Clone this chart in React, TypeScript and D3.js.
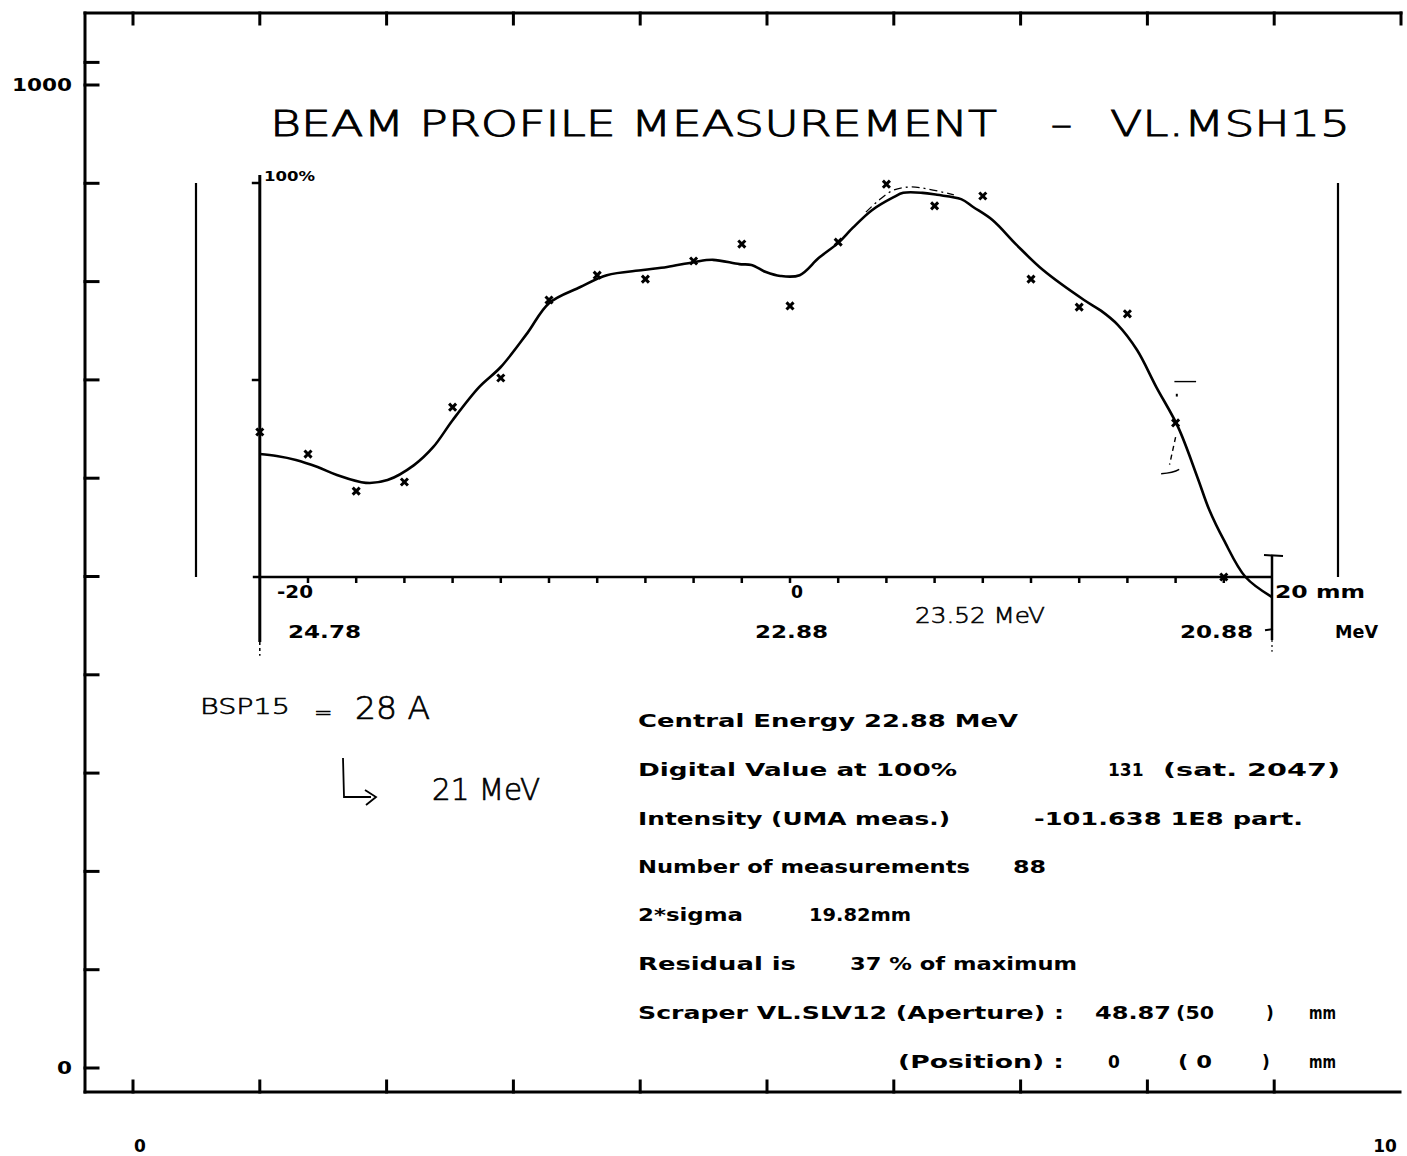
import React from "react";
import * as d3 from "d3";

// ---------- data ----------
// outer frame axes
const outerTopTicks = [0, 1, 2, 3, 4, 5, 6, 7, 8, 9, 10];
const outerBottomTicks = [0, 1, 2, 3, 4, 5, 6, 7, 8, 9];
const outerLeftTicks = [0, 100, 200, 300, 400, 500, 600, 700, 800, 900, 1000, 1023];
const outerLeftLabels = ["0", "1000"];
const outerLeftLabelValues = [0, 1000];
const outerBottomLabels = ["0", "10"];
const outerBottomLabelValues = [0, 10];

// inner profile axes (mm / %)
const posTicks = [-20, -18, -16, -14, -12, -10, -8, -6, -4, -2, 0, 2, 4, 6, 8, 10, 12, 14, 16, 18];
const posLabels = ["-20", "0", "20 mm"];
const posLabelValues = [-20, 0, 20];
const energyLabels = ["24.78", "22.88", "20.88"];
const energyLabelValues = [-20, 0, 20];
const pctTicks = [50, 100];

// measured points
const pointPos = [-22, -20, -18, -16, -14, -12, -10, -8, -6, -4, -2, 0, 2, 4, 6, 8, 10, 12, 14, 16, 18];
const pointPct = [36.8, 31.2, 21.8, 24.1, 43.1, 50.5, 70.3, 76.6, 75.6, 80.2, 84.5, 68.8, 85.0, 99.7, 94.2, 96.7, 75.6, 68.5, 66.8, 39.1, 0];

// fitted profile
const fitPos = [-22.0, -21.3, -20.5, -19.6, -18.8, -17.6, -16.7, -15.6, -14.8, -14.0, -12.9, -12.0, -10.9, -10.0, -8.7, -7.6, -6.1, -5.1, -4.0, -3.2, -2.1, -1.6, -1.0, -0.4, 0.4, 1.2, 2.0, 2.6, 3.4, 4.3, 4.7, 5.5, 6.1, 7.1, 7.6, 8.4, 9.4, 10.5, 12.2, 12.9, 13.6, 14.4, 15.2, 16.1, 16.9, 17.4, 18.0, 18.9, 20.0];
const fitPct = [31.2, 30.7, 29.7, 27.9, 25.9, 23.9, 24.6, 28.4, 33.0, 39.8, 48.2, 53.3, 61.9, 69.5, 73.6, 76.6, 77.9, 78.7, 79.9, 80.5, 79.4, 79.2, 77.4, 76.4, 76.6, 81.0, 84.8, 88.6, 93.1, 96.4, 97.5, 97.5, 97.0, 95.9, 93.9, 90.6, 84.3, 77.9, 70.3, 67.6, 64.0, 57.6, 48.2, 38.1, 25.4, 17.0, 9.4, 0, -5.1];

// secondary (dash-dot) fit near the peak
const altPos = [3.15, 3.7, 4.3, 5.0, 5.7, 6.8];
const altPct = [92.6, 95.7, 98.2, 99.0, 98.5, 97.0];

// info block text
const infoLines = [
  ["Central Energy  22.88 MeV"],
  ["Digital Value at 100%", "131", "(sat. 2047)"],
  ["Intensity  (UMA meas.)", "-101.638 1E8 part."],
  ["Number of measurements", "88"],
  ["2*sigma", "19.82mm"],
  ["Residual is", "37 % of maximum"],
  ["Scraper VL.SLV12  (Aperture) :", "48.87", "(50", ")", "mm"],
  ["(Position) :", "0", "( 0", ")", "mm"],
];

// ---------- layout ----------
const W = 1407;
const H = 1156;
const FL = 85, FT = 13, FB = 1092, FR = 1401;
const infoY = [727, 776, 825, 873, 921, 970, 1019, 1068];
const infoX = [
  [[638, 1018]],
  [[638, 957], [1108, 1135], [1163, 1340]],
  [[638, 950], [1034, 1303]],
  [[638, 970], [1013, 1046]],
  [[638, 743], [809, 911]],
  [[638, 796], [850, 1077]],
  [[638, 1064], [1095, 1171], [1176, 1214], [1266, 1272], [1309, 1336]],
  [[898, 1064], [1108, 1120], [1178, 1212], [1262, 1268], [1309, 1336]],
];

const PLOT = "'DejaVu Sans', 'Liberation Sans', sans-serif";
const HAND = "'DejaVu Sans', sans-serif";

function T(props: { x: number; y: number; w?: number; size: number; bold?: boolean; anchor?: string; children: string; weight?: number; family?: string; outline?: number }) {
  const { x, y, w, size, bold, anchor, children, weight, family, outline } = props;
  return (
    <text
      x={x}
      y={y}
      fontFamily={family || PLOT}
      fontSize={size}
      fontWeight={weight ?? (bold ? 700 : 400)}
      textAnchor={anchor || "start"}
      textLength={w}
      lengthAdjust={w ? "spacingAndGlyphs" : undefined}
      fill="#000"
      stroke={outline ? "#000" : undefined}
      strokeWidth={outline}
    >
      {children}
    </text>
  );
}

export default function App() {
  const ox = d3.scaleLinear().domain([0, 10]).range([133, 1401]);
  const oy = d3.scaleLinear().domain([0, 1000]).range([1068, 85]);
  const ix = d3.scaleLinear().domain([-20, 20]).range([308, 1272]);
  const iy = d3.scaleLinear().domain([0, 100]).range([577, 183]);

  const curve = d3
    .line<[number, number]>()
    .x((d) => ix(d[0]))
    .y((d) => iy(d[1]))
    .curve(d3.curveCatmullRom.alpha(0.5));

  const fitData: [number, number][] = fitPos.map((p, i) => [p, fitPct[i]]);
  const altData: [number, number][] = altPos.map((p, i) => [p, altPct[i]]);
  const marker = d3.symbol().type(d3.symbolX).size(34)() as string;

  const axisX = ix(-22);
  const barX = ix(20);

  return (
    <svg
      width={W}
      height={H}
      viewBox={`0 0 ${W} ${H}`}
      style={{ position: "absolute", left: 0, top: 0, background: "#fff", display: "block" }}
    >
      <rect x={0} y={0} width={W} height={H} fill="#fff" />

      {/* outer frame */}
      <g stroke="#000" strokeWidth={3} fill="none" strokeLinecap="square">
        <line x1={FL} y1={FT} x2={FL} y2={FB} />
        <line x1={FL} y1={FT} x2={FR} y2={FT} />
        <line x1={FL} y1={FB} x2={FR - 1} y2={FB} />
        {outerTopTicks.map((t) => (
          <line key={"tt" + t} x1={ox(t)} y1={FT} x2={ox(t)} y2={FT + 11} />
        ))}
        {outerBottomTicks.map((t) => (
          <line key={"bt" + t} x1={ox(t)} y1={FB} x2={ox(t)} y2={FB - 11} />
        ))}
        {outerLeftTicks.map((t) => (
          <line key={"lt" + t} x1={FL} y1={oy(t)} x2={FL + 13} y2={oy(t)} />
        ))}
      </g>
      {outerLeftLabels.map((s, i) => (
        <T key={"ll" + i} x={FL - 13} y={oy(outerLeftLabelValues[i]) + 6} size={17} bold anchor="end" w={s.length * 15}>
          {s}
        </T>
      ))}
      {outerBottomLabels.map((s, i) => (
        <T key={"bl" + i} x={ox(outerBottomLabelValues[i]) + (i === 0 ? 7 : -16)} y={1152} size={17} bold anchor="middle">
          {s}
        </T>
      ))}

      {/* title */}
      <T x={270} y={136} size={35} weight={200} w={727} outline={0.9}>BEAM PROFILE MEASUREMENT</T>
      <T x={1050} y={136} size={35} weight={200} w={23} outline={0.9}>-</T>
      <T x={1110} y={136} size={35} weight={200} w={240} outline={0.9}>VL.MSH15</T>

      {/* side bars */}
      <g stroke="#000" strokeWidth={2.2}>
        <line x1={196} y1={iy(100)} x2={196} y2={iy(0)} />
        <line x1={1338} y1={iy(100)} x2={1338} y2={iy(0)} />
      </g>

      {/* inner axes */}
      <g stroke="#000" fill="none">
        <line x1={axisX} y1={iy(102)} x2={axisX} y2={iy(-16.5)} strokeWidth={3} />
        <line x1={axisX} y1={iy(-16.5)} x2={axisX} y2={iy(-20)} strokeWidth={1.5} strokeDasharray="3 3" />
        {pctTicks.map((p) => (
          <line key={"pt" + p} x1={axisX - 8} y1={iy(p)} x2={axisX} y2={iy(p)} strokeWidth={2.5} />
        ))}
        <line x1={axisX - 7} y1={iy(0)} x2={barX} y2={iy(0)} strokeWidth={2.5} />
        {posTicks.map((p) => (
          <line key={"xt" + p} x1={ix(p)} y1={iy(0)} x2={ix(p)} y2={iy(0) + 6} strokeWidth={2.5} />
        ))}
        {/* right limit bar */}
        <line x1={barX} y1={iy(5.6)} x2={barX} y2={iy(-16)} strokeWidth={2.5} />
        <line x1={barX - 8} y1={iy(5.6)} x2={barX + 11} y2={iy(5.3)} strokeWidth={2} />
        <line x1={barX - 7} y1={iy(-13.5)} x2={barX + 1} y2={iy(-13.2)} strokeWidth={2} />
        <line x1={barX} y1={iy(-16)} x2={barX} y2={iy(-19)} strokeWidth={1.2} strokeDasharray="2 3" />
      </g>

      {/* inner labels */}
      <T x={264} y={181} size={14} bold w={51}>100%</T>
      {posLabels.map((s, i) => {
        const v = posLabelValues[i];
        const x = i === 0 ? ix(v) - 31 : i === 1 ? ix(v) + 1 : ix(v) + 3;
        const w = i === 0 ? 36 : i === 1 ? 12 : 90;
        return (
          <T key={"pl" + i} x={x} y={598} size={17} bold w={w}>
            {s}
          </T>
        );
      })}
      {energyLabels.map((s, i) => {
        const v = energyLabelValues[i];
        const x = i === 0 ? ix(v) - 20 : i === 1 ? ix(v) - 35 : ix(v) - 92;
        return (
          <T key={"el" + i} x={x} y={638} size={17} bold w={73}>
            {s}
          </T>
        );
      })}
      <T x={1335} y={638} size={17} bold w={43}>MeV</T>

      {/* fitted curve */}
      <path d={curve(fitData) || ""} fill="none" stroke="#000" strokeWidth={2.6} strokeLinejoin="round" />
      <path d={curve(altData) || ""} fill="none" stroke="#000" strokeWidth={1.3} strokeDasharray="8 4 2 4" />

      {/* measured points */}
      {pointPos.map((p, i) => (
        <path
          key={"m" + i}
          d={marker}
          transform={`translate(${ix(p)},${iy(pointPct[i])})`}
          fill="none"
          stroke="#000"
          strokeWidth={3}
        />
      ))}

      {/* hand-drawn error bar near 16 mm */}
      <g stroke="#000" fill="none" strokeWidth={1.4}>
        <line x1={ix(15.95)} y1={iy(49.6)} x2={ix(16.85)} y2={iy(49.6)} />
        <line x1={ix(16.05)} y1={iy(46.5)} x2={ix(16.05)} y2={iy(45.8)} strokeWidth={2} />
        <line x1={ix(16.0)} y1={iy(35.5)} x2={ix(15.75)} y2={iy(28.5)} strokeDasharray="5 4" />
        <path d={`M${ix(15.4)},${iy(26.2)} Q${ix(15.9)},${iy(26.4)} ${ix(16.15)},${iy(27.3)}`} />
      </g>

      {/* handwritten notes */}
      <T x={915} y={623} size={22} weight={200} family={HAND} w={130} outline={0.6}>23.52 MeV</T>
      <T x={200} y={714} size={22} weight={200} family={HAND} w={90} outline={0.6}>BSP15</T>
      <T x={314} y={720} size={22} weight={200} family={HAND} outline={0.6}>=</T>
      <T x={355} y={719} size={32} weight={200} family={HAND} w={75} outline={0.7}>28 A</T>
      <g stroke="#000" fill="none" strokeWidth={1.8}>
        <path d="M343,758 L344,797 L371,797" />
        <path d="M365,790 L376,797 L366,805" />
      </g>
      <T x={432} y={800} size={30} weight={200} family={HAND} w={108} outline={0.7}>21 MeV</T>

      {/* info block */}
      {infoLines.map((segs, r) =>
        segs.map((s, k) => {
          const [x0, x1] = infoX[r][k];
          const w = s.length >= 2 && s !== "131" ? x1 - x0 : undefined;
          return (
            <T key={`i${r}-${k}`} x={x0} y={infoY[r]} size={17} bold w={w}>
              {s}
            </T>
          );
        })
      )}
    </svg>
  );
}
